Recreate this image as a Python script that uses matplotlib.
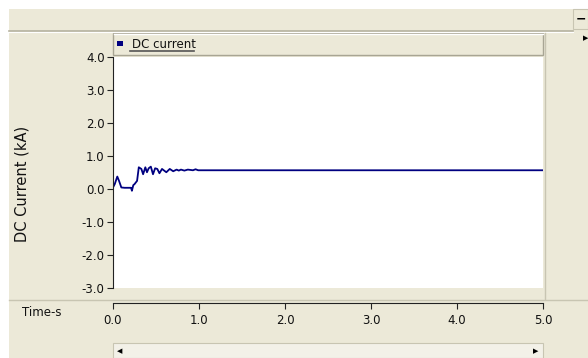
import matplotlib
matplotlib.use('Agg')
import matplotlib.pyplot as plt
from matplotlib.patches import Rectangle
from matplotlib.lines import Line2D

# Dados (tempo em s, corrente em kA)
tempo = [0.0, 0.02, 0.05, 0.07, 0.097, 0.135, 0.21, 0.22, 0.236, 0.25, 0.28,
         0.30, 0.33, 0.35, 0.376, 0.395, 0.415, 0.44, 0.465, 0.49, 0.515,
         0.54, 0.57, 0.595, 0.62, 0.66, 0.70, 0.74, 0.765, 0.79, 0.83,
         0.87, 0.93, 0.96, 0.99, 1.0, 5.0]
corrente = [0.04, 0.14, 0.37, 0.24, 0.04, 0.03, 0.03, -0.06, 0.11, 0.14, 0.24,
            0.65, 0.60, 0.44, 0.65, 0.50, 0.62, 0.67, 0.44, 0.62, 0.60,
            0.47, 0.60, 0.55, 0.50, 0.60, 0.53, 0.58, 0.55, 0.58, 0.55,
            0.58, 0.56, 0.59, 0.56, 0.56, 0.56]
yticks = [4.0, 3.0, 2.0, 1.0, 0.0, -1.0, -2.0, -3.0]
xticks = [0.0, 1.0, 2.0, 3.0, 4.0, 5.0]

W, H = 588, 358
bege = '#ECE9D8'
plt.rcParams['font.family'] = ['DejaVu Sans']

fig = plt.figure(figsize=(W / 100, H / 100), dpi=100)
fig.patch.set_facecolor('white')


def caixa(x0, y0, x1, y1):
    # converte pixels (origem no topo) para coordenadas da figura
    return [x0 / W, 1 - y1 / H, (x1 - x0) / W, (y1 - y0) / H]


def retangulo(x0, y0, x1, y1, z=0, **kw):
    b = caixa(x0, y0, x1, y1)
    fig.patches.append(Rectangle((b[0], b[1]), b[2], b[3], transform=fig.transFigure,
                                 zorder=z, **kw))


def linha(x0, y0, x1, y1, **kw):
    fig.lines.append(Line2D([x0 / W, x1 / W], [1 - y0 / H, 1 - y1 / H],
                            transform=fig.transFigure, zorder=1, **kw))


# fundo estilo janela
retangulo(9, 9, W, H, z=-2, facecolor=bege, edgecolor='none')
linha(9, 30.5, 573, 30.5, color='#B5B2A0', lw=1.2)
linha(9, 31.5, 573, 31.5, color='white', lw=0.8)
retangulo(573, 9, 588, 29, facecolor=bege, edgecolor='#C8C5B2', lw=0.8)
fig.text(581 / W, 1 - 19 / H, '−', ha='center', va='center', fontsize=9, fontweight='bold')
linha(545, 33, 545, 299, color='#C8C5B2', lw=1)
fig.text(586 / W, 1 - 38 / H, '▶', ha='center', va='center', fontsize=5)

# barra da legenda
retangulo(113, 33, 543, 55, facecolor=bege, edgecolor='#A8A594', lw=1)
linha(113.5, 33.5, 542.5, 33.5, color='white', lw=1)
retangulo(117, 41, 123, 46, z=2, facecolor='#000080', edgecolor='none')
fig.text(132 / W, 1 - 44 / H, 'DC current', ha='left', va='center', fontsize=8.5, color='#111111')
linha(130, 51, 194, 51, color='#555555', lw=1.2)

# separador e barra de rolagem
linha(9, 299.5, W, 299.5, color='#C8C5B2', lw=1)
retangulo(113, 343, 543, 358, facecolor='#F3F1E8', edgecolor='#C8C5B2', lw=0.8)
fig.text(120 / W, 1 - 351 / H, '◀', ha='center', va='center', fontsize=5)
fig.text(536 / W, 1 - 351 / H, '▶', ha='center', va='center', fontsize=5)

# área do gráfico
ax = fig.add_axes(caixa(113, 56.5, 543, 288))
ax.set_zorder(3)
ax.set_facecolor('white')
ax.plot(tempo, corrente, color='#000080', lw=1.3)
ax.set_xlim(0, 5)
ax.set_ylim(-3, 4)
ax.set_yticks(yticks)
ax.set_yticklabels([f'{v:.1f}' for v in yticks])
ax.set_xticks([])
for s in ['top', 'right', 'bottom']:
    ax.spines[s].set_visible(False)
ax.spines['left'].set_color('#222222')
ax.tick_params(axis='y', direction='out', length=4, pad=2, labelsize=8.5,
               color='#222222', labelcolor='#111111')
fig.text(22 / W, 1 - 184 / H, 'DC Current (kA)', rotation=90, ha='center', va='center',
         fontsize=10.5, color='#111111')

# eixo do tempo separado
ax2 = fig.add_axes(caixa(113, 301, 543, 302.5))
ax2.set_zorder(3)
ax2.patch.set_visible(False)
ax2.set_xlim(0, 5)
ax2.set_xticks(xticks)
ax2.set_xticklabels([f'{v:.1f}' for v in xticks])
ax2.set_yticks([])
for s in ['top', 'right', 'left']:
    ax2.spines[s].set_visible(False)
ax2.spines['bottom'].set_color('#222222')
ax2.tick_params(axis='x', direction='out', length=4, pad=4, labelsize=8.5,
                color='#222222', labelcolor='#111111')
fig.text(22 / W, 1 - 312 / H, 'Time-s', ha='left', va='center', fontsize=8.5, color='#111111')

fig.savefig('out.png', dpi=100, facecolor=fig.get_facecolor())
